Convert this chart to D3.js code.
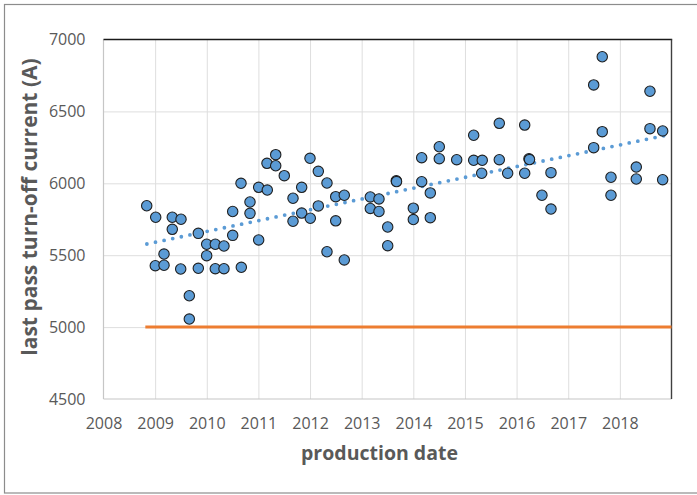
<!DOCTYPE html>
<html>
<head>
<meta charset="utf-8">
<script src="https://cdn.jsdelivr.net/npm/d3@7/dist/d3.min.js"></script>
<style>
  html, body { margin: 0; padding: 0; background: #fff; }
  svg { display: block; }
</style>
</head>
<body>
<svg id="chart" width="697" height="495"></svg>
<script>
// ---- data (decimal production year, last pass turn-off current in A) ----
const productionDates = [
  2008.837, 2009.011, 2009.332, 2009.501, 2009.332, 2009.836, 2010.663, 2010.502,
  2010.837, 2010.837, 2011.005, 2011.172, 2011.166, 2011.335, 2011.335, 2011.501,
  2011.670, 2011.838, 2011.670, 2011.838, 2012.005, 2011.999, 2012.160, 2012.328,
  2012.160, 2012.497, 2012.663, 2012.497, 2013.167, 2013.335, 2013.167, 2013.335,
  2013.504, 2013.504, 2013.670, 2013.675, 2014.162, 2014.162, 2014.329, 2014.000,
  2014.000, 2014.329, 2014.503, 2014.503, 2014.840, 2015.169, 2015.169, 2015.335,
  2015.324, 2015.665, 2015.665, 2015.827, 2016.157, 2016.240, 2016.250, 2016.157,
  2016.666, 2016.491, 2016.666, 2017.659, 2017.493, 2018.583, 2017.659, 2017.493,
  2018.583, 2018.829, 2017.828, 2017.828, 2018.318, 2018.318, 2018.829,
  2009.172, 2009.998, 2010.165, 2010.333, 2010.502, 2011.005, 2012.328, 2012.663,
  2009.998, 2009.003, 2009.172, 2009.495, 2009.836, 2010.165, 2010.333, 2010.669,
  2009.662, 2009.662
];
const turnOffCurrent = [
  5844, 5764, 5764, 5750, 5680, 5652, 6000, 5804,
  5870, 5791, 5972, 5953, 6139, 6199, 6122, 6053,
  5896, 5972, 5736, 5793, 5757, 6174, 6083, 6002,
  5843, 5907, 5917, 5739, 5905, 5891, 5825, 5804,
  5696, 5566, 6018, 6012, 6178, 6011, 5933, 5827,
  5748, 5761, 6254, 6171, 6164, 6334, 6160, 6160,
  6070, 6417, 6164, 6070, 6405, 6171, 6165, 6070,
  6074, 5917, 5821, 6880, 6684, 6640, 6359, 6248,
  6380, 6364, 6042, 5917, 6113, 6030, 6025,
  5508, 5576, 5576, 5564, 5638, 5606, 5524, 5467,
  5497, 5427, 5430, 5404, 5409, 5406, 5406, 5416,
  5218, 5056
];
// linear trend line (end points)
const trendDates = [2008.84, 2018.92];
const trendValues = [5578, 6336];
// specification limit line
const limitDates = [2008.81, 2019.0];
const limitValues = [5000, 5000];
// axis ticks
const xTicks = [2008, 2009, 2010, 2011, 2012, 2013, 2014, 2015, 2016, 2017, 2018];
const xGrid = [2009, 2010, 2011, 2012, 2013, 2014, 2015, 2016, 2017, 2018];
const yTicks = [4500, 5000, 5500, 6000, 6500, 7000];

// ---- layout ----
const W = 697, H = 495;
const plot = { left: 103.5, right: 671.5, top: 39.5, bottom: 399 };
const tickFont = "'Open Sans', 'Noto Sans', sans-serif";
const textColor = "#595959";

const svg = d3.select("#chart");
svg.append("rect").attr("x", 0).attr("y", 0).attr("width", W).attr("height", H).attr("fill", "#fff");
// outer chart border
svg.append("rect")
  .attr("x", 4.5).attr("y", 4.5).attr("width", W + 10).attr("height", 488.5)
  .attr("fill", "none").attr("stroke", "#8c8c8c").attr("stroke-width", 1.2);

const x = d3.scaleLinear().domain([2008, 2019]).range([plot.left, plot.right]);
const y = d3.scaleLinear().domain([4500, 7000]).range([plot.bottom, plot.top]);

// gridlines
svg.append("g")
  .attr("transform", `translate(0,${plot.bottom})`)
  .call(d3.axisBottom(x).tickValues(xGrid).tickSize(-(plot.bottom - plot.top)).tickFormat(""))
  .call(g => g.select(".domain").remove())
  .call(g => g.selectAll("line").attr("stroke", "#dedede").attr("stroke-width", 1));
svg.append("g")
  .attr("transform", `translate(${plot.left},0)`)
  .call(d3.axisLeft(y).tickValues(yTicks.slice(1, -1)).tickSize(-(plot.right - plot.left)).tickFormat(""))
  .call(g => g.select(".domain").remove())
  .call(g => g.selectAll("line").attr("stroke", "#dedede").attr("stroke-width", 1));

// frame: left + bottom light, top + right dark
svg.append("line").attr("x1", plot.left).attr("x2", plot.left).attr("y1", plot.top).attr("y2", plot.bottom)
  .attr("stroke", "#c6c6c6").attr("stroke-width", 1.2);
svg.append("line").attr("x1", plot.left).attr("x2", plot.right).attr("y1", plot.bottom).attr("y2", plot.bottom)
  .attr("stroke", "#c6c6c6").attr("stroke-width", 1.2);
svg.append("line").attr("x1", plot.left).attr("x2", plot.right + 0.7).attr("y1", plot.top).attr("y2", plot.top)
  .attr("stroke", "#1a1a1a").attr("stroke-width", 1.4);
svg.append("line").attr("x1", plot.right).attr("x2", plot.right).attr("y1", plot.top).attr("y2", plot.bottom)
  .attr("stroke", "#404040").attr("stroke-width", 1.4);

// axes labels
const xAxis = svg.append("g")
  .attr("transform", `translate(0,${plot.bottom})`)
  .call(d3.axisBottom(x).tickValues(xTicks).tickSize(0).tickPadding(19).tickFormat(d3.format("d")));
xAxis.select(".domain").remove();
xAxis.selectAll("text").attr("font-family", tickFont).attr("font-size", 16).attr("fill", textColor);

const yAxis = svg.append("g")
  .attr("transform", `translate(${plot.left},0)`)
  .call(d3.axisLeft(y).tickValues(yTicks).tickSize(0).tickPadding(18).tickFormat(d3.format("d")));
yAxis.select(".domain").remove();
yAxis.selectAll("text").attr("font-family", tickFont).attr("font-size", 16).attr("fill", textColor);

// axis titles
svg.append("text")
  .attr("x", (plot.left + plot.right) / 2 - 8).attr("y", 460)
  .attr("text-anchor", "middle")
  .attr("font-family", tickFont).attr("font-weight", "bold").attr("font-size", 19.5)
  .attr("fill", textColor)
  .text("production date");
svg.append("text")
  .attr("transform", `translate(37,${207}) rotate(-90)`)
  .attr("text-anchor", "middle")
  .attr("font-family", tickFont).attr("font-weight", "bold").attr("font-size", 21)
  .attr("fill", textColor)
  .text("last pass turn-off current (A)");

// limit line
const line = d3.line().x(d => x(d[0])).y(d => y(d[1]));
svg.append("path")
  .datum(d3.zip(limitDates, limitValues))
  .attr("d", line)
  .attr("fill", "none").attr("stroke", "#ED7D31").attr("stroke-width", 3);

// trend line
svg.append("path")
  .datum(d3.zip(trendDates, trendValues))
  .attr("d", line)
  .attr("fill", "none").attr("stroke", "#5B9BD5").attr("stroke-width", 3.8)
  .attr("stroke-linecap", "round").attr("stroke-dasharray", "0 8.8");

// points
svg.append("g").selectAll("circle")
  .data(d3.zip(productionDates, turnOffCurrent))
  .join("circle")
  .attr("cx", d => x(d[0])).attr("cy", d => y(d[1]))
  .attr("r", 5.2)
  .attr("fill", "#5B9BD5").attr("stroke", "#1f1f1f").attr("stroke-width", 1.1);
</script>
</body>
</html>
